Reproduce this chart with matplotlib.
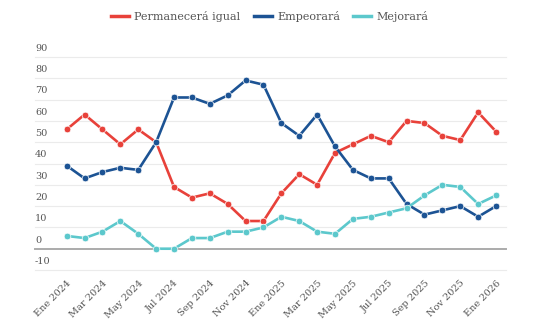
import numpy as np
import matplotlib.pyplot as plt

months = ["Ene", "Feb", "Mar", "Abr", "May", "Jun", "Jul", "Ago", "Sep", "Oct", "Nov", "Dic"]
dates = [f"{months[i % 12]} {2024 + i // 12}" for i in range(25)]

igual = [56, 63, 56, 49, 56, 50, 29, 24, 26, 21, 13, 13,
         26, 35, 30, 45, 49, 53, 50, 60, 59, 53, 51, 64, 55]
empeorara = [39, 33, 36, 38, 37, 50, 71, 71, 68, 72, 79, 77,
             59, 53, 63, 48, 37, 33, 33, 21, 16, 18, 20, 15, 20]
mejorara = [6, 5, 8, 13, 7, 0, 0, 5, 5, 8, 8, 10,
            15, 13, 8, 7, 14, 15, 17, 19, 25, 30, 29, 21, 25]

series = [("Permanecerá igual", igual, "#e8413a"),
          ("Empeorará", empeorara, "#1c5394"),
          ("Mejorará", mejorara, "#5cc8cc")]

yticks = [-10, 0, 10, 20, 30, 40, 50, 60, 70, 80, 90]

plt.rcParams['font.family'] = ['DejaVu Serif']
txt = "#555555"

fig = plt.figure(figsize=(5.43, 3.29), dpi=100)
ax = fig.add_axes([0.0645, 0.1793, 0.8675, 0.6474])

x = np.arange(len(dates))
for name, vals, col in series:
    ax.plot(x, vals, color=col, lw=1.9, marker="o", ms=4.8,
            mec="white", mew=0.5, label=name, zorder=3)

ax.set_ylim(-10, 90)
ax.set_xlim(-1.77, 24.56)
for v in yticks:
    if v == 0:
        ax.axhline(v, color="#ababab", lw=1.4, zorder=1, clip_on=False)
    else:
        ax.axhline(v, color="#ebebeb", lw=0.8, zorder=1, clip_on=False)
    ax.annotate(str(v), (0, v), xycoords=("axes fraction", "data"),
                xytext=(0, 3), textcoords="offset points",
                ha="left", va="bottom", fontsize=7, color=txt)

ax.set_yticks([])
ax.set_xticks(x[::2])
ax.set_xticklabels(dates[::2], rotation=45, ha="right", rotation_mode="anchor",
                   fontsize=7, color=txt)
ax.tick_params(axis="x", length=0, pad=6)
for s in ax.spines.values():
    s.set_visible(False)

fig.legend(loc="center", bbox_to_anchor=(0.497, 0.95), ncol=3, frameon=False,
           fontsize=8, handlelength=1.6, handletextpad=0.5, columnspacing=1.2,
           labelcolor=txt)
for h in fig.legends[0].legend_handles:
    h.set_marker("")
    h.set_linewidth(2.5)

fig.savefig("out.png", dpi=100)
